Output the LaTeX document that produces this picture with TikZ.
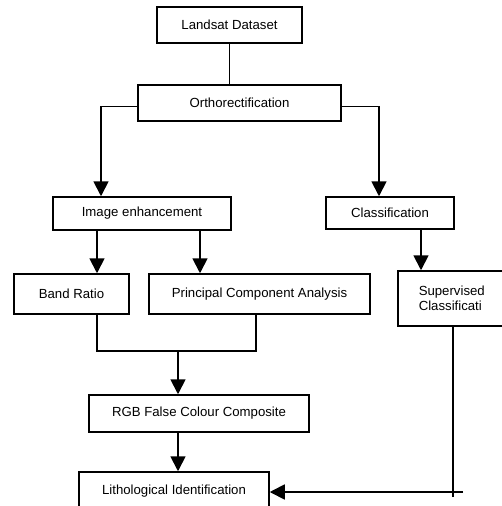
\documentclass[tikz,border=0pt]{standalone}
\usepackage{fontspec}
\setmainfont{Liberation Sans}
\usepackage{tikz}
\usetikzlibrary{arrows.meta,positioning}
\tikzset{
  box/.style={draw=black, line width=1.5pt, align=center, fill=white, inner sep=0pt},
  arrow/.style={-{Triangle[length=15pt, width=15pt]}, line width=1.8pt, draw=black},
  link/.style={line width=1.8pt, draw=black}
}

\begin{document}
\begin{tikzpicture}[x=1pt, y=-1pt, font=\fontsize{13.2}{14.5}\selectfont]
  \useasboundingbox (0,0) rectangle (502,506);
  \clip (0,0) rectangle (502,506);

  \node[box, minimum width=145pt, minimum height=36pt] (landsat) at (229.5,25) {Landsat Dataset};
  \node[box, minimum width=203pt, minimum height=36pt] (ortho) at (239.5,103) {Orthorectification};

  \node[box, minimum width=178pt, minimum height=33pt] (imgenh) at (142,213.5) {Image enhancement};
  \node[box, minimum width=128pt, minimum height=32pt] (classif) at (390,213) {Classification};

  \node[box, minimum width=115pt, minimum height=40pt] (bandratio) at (71.5,294) {Band Ratio};
  \node[box, minimum width=221pt, minimum height=40pt] (pca) at (259.5,294) {Principal Component Analysis};
  \node[box, anchor=west, align=left, inner xsep=21pt, text width=83pt, minimum height=55pt] (superv) at (397,298.5) {Supervised\\Classificati};

  \node[box, minimum width=220pt, minimum height=37pt] (rgb) at (199,413.5) {RGB False Colour Composite};
  \node[box, minimum width=190pt, minimum height=38pt] (litho) at (174,491) {Lithological Identification};

  \coordinate (join) at (178,351);
  \coordinate (cross) at (453,497);
  \coordinate (tail) at (463,492);

  \draw[link] (landsat.south) -- (landsat.south |- ortho.north);
  \draw[arrow] ([yshift=-3.5pt]ortho.west) -| ([xshift=-41pt]imgenh.north);
  \draw[arrow] ([yshift=-3.5pt]ortho.east) -| ([xshift=-11pt]classif.north);
  \draw[arrow] ([xshift=25.5pt]bandratio.north |- imgenh.south) -- ([xshift=25.5pt]bandratio.north);
  \draw[arrow] ([xshift=-59.5pt]pca.north |- imgenh.south) -- ([xshift=-59.5pt]pca.north);
  \draw[link] ([xshift=25.5pt]bandratio.south) |- (join) -| ([xshift=-3.5pt]pca.south);
  \draw[arrow] (join) -- (join |- rgb.north);
  \draw[arrow] (join |- rgb.south) -- (join |- litho.north);
  \draw[arrow] ([xshift=31pt]classif.south) -- ([xshift=31pt]classif.south |- superv.north);
  \draw[link] (cross |- superv.south) -- (cross);
  \draw[arrow] (tail) -- (tail -| litho.east);
\end{tikzpicture}
\end{document}
